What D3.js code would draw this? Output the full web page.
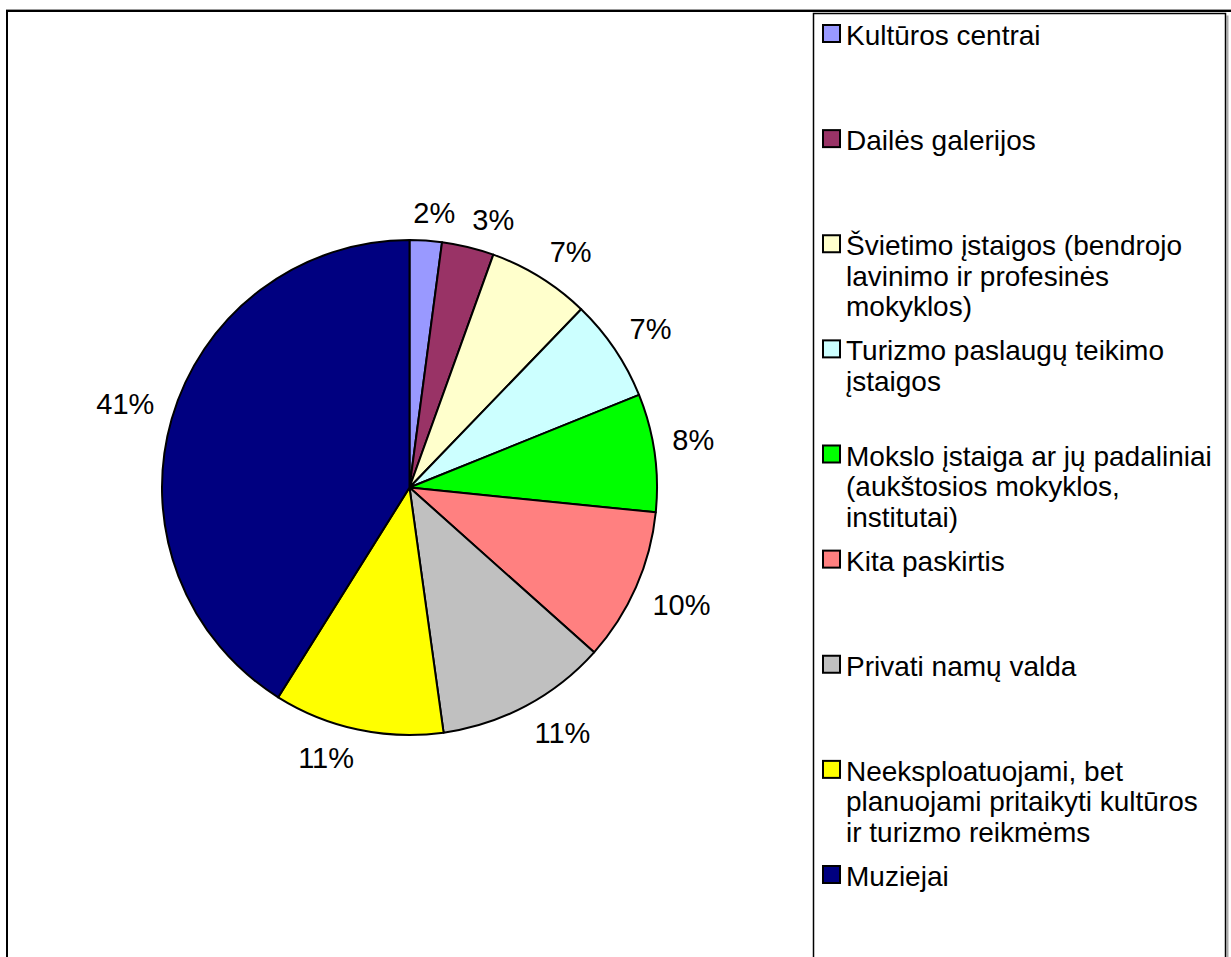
<!DOCTYPE html>
<html>
<head>
<meta charset="utf-8">
<script src="https://cdn.jsdelivr.net/npm/d3@7"></script>
<style>
  body { margin: 0; background: #fff; }
  svg { display: block; font-family: "Liberation Sans", Arial, sans-serif; }
</style>
</head>
<body>
<div id="chart"></div>
<script>
// category names (legend order = slice order, clockwise from 12 o'clock)
var categories = [
    "Kultūros centrai",
    "Dailės galerijos",
    "Švietimo įstaigos (bendrojo\nlavinimo ir profesinės\nmokyklos)",
    "Turizmo paslaugų teikimo\nįstaigos",
    "Mokslo įstaiga ar jų padaliniai\n(aukštosios mokyklos,\ninstitutai)",
    "Kita paskirtis",
    "Privati namų valda",
    "Neeksploatuojami, bet\nplanuojami pritaikyti kultūros\nir turizmo reikmėms",
    "Muziejai"
];
// share of objects, %
var values = [2.1, 3.4, 6.7, 6.7, 7.7, 10.0, 11.2, 11.1, 41.1];
var colors = ["#9999ff", "#993366", "#ffffcc", "#ccffff", "#00ff00", "#ff8080", "#c0c0c0", "#ffff00", "#000080"];

var W = 1231, H = 957;
var svg = d3.select("#chart").append("svg").attr("width", W).attr("height", H);

// chart area frame (runs off the bottom/right of the picture)
svg.append("line").attr("x1", 6).attr("x2", W).attr("y1", 9.5).attr("y2", 9.5)
    .style("stroke", "#999").style("stroke-width", 1);
svg.append("path").attr("d", "M7," + (H + 10) + "V11H" + (W + 10))
    .style("fill", "none").style("stroke", "#000").style("stroke-width", 2);

// pie
var cx = 409.5, cy = 487.5, radius = 247.5;
var pie = d3.pie().sort(null).value(function(d) { return d; });
var arcs = pie(values);
var arc = d3.arc().innerRadius(0).outerRadius(radius);

var g = svg.append("g").attr("transform", "translate(" + cx + "," + cy + ")");
g.selectAll("path.slice").data(arcs).enter().append("path")
    .attr("class", "slice")
    .attr("d", arc)
    .style("fill", function(d, i) { return colors[i]; })
    .style("stroke", "#000")
    .style("stroke-width", 2)
    .style("stroke-linejoin", "round");

// percent labels: the label corner nearest the pie sits on a ring just outside it
var labelFont = 29, capH = labelFont * 0.716, ringR = radius + 18, minGap = 17;
var labels = g.selectAll("text.pct").data(arcs).enter().append("text")
    .attr("class", "pct")
    .attr("text-anchor", "middle")
    .style("font-size", labelFont + "px")
    .style("fill", "#000")
    .text(function(d) { return Math.round(d.value) + "%"; });

var boxes = [];
labels.each(function(d) {
    var a = (d.startAngle + d.endAngle) / 2;
    var px = ringR * Math.sin(a), py = -ringR * Math.cos(a);
    var w = this.getComputedTextLength();
    boxes.push({
        w: w,
        left: Math.sin(a) >= 0 ? px : px - w,
        top: Math.cos(a) >= 0 ? py - capH : py
    });
});
// crowded neighbours along the top: push the earlier label to the left
for (var i = boxes.length - 2; i >= 0; i--) {
    var b = boxes[i], n = boxes[i + 1];
    var vOverlap = b.top < n.top + capH && n.top < b.top + capH;
    if (vOverlap && b.left + b.w + minGap > n.left && b.left < n.left) {
        b.left = n.left - minGap - b.w;
    }
}
labels.attr("x", function(d, i) { return boxes[i].left + boxes[i].w / 2; })
    .attr("y", function(d, i) { return boxes[i].top + capH; });

// legend box
var lx = 813.5, ly = 13.5, lw = 412;
svg.append("line").attr("x1", lx + lw + 2).attr("x2", lx + lw + 2).attr("y1", ly + 2).attr("y2", H + 10)
    .style("stroke", "#aaa").style("stroke-width", 2);
svg.append("rect").attr("x", lx).attr("y", ly).attr("width", lw).attr("height", H)
    .style("fill", "#fff").style("stroke", "#000").style("stroke-width", 1.5);

var yLegend = d3.scaleLinear().domain([0, categories.length - 1]).range([45, 886]);
var lineH = 30.5;

var items = svg.selectAll("g.legend").data(categories).enter().append("g")
    .attr("class", "legend")
    .attr("transform", function(d, i) { return "translate(0," + yLegend(i) + ")"; });

items.append("rect")
    .attr("x", 823).attr("y", -20)
    .attr("width", 17).attr("height", 17)
    .style("fill", function(d, i) { return colors[i]; })
    .style("stroke", "#000").style("stroke-width", 2);

items.append("text")
    .attr("x", 846)
    .style("font-size", "28px")
    .style("fill", "#000")
    .each(function(d) {
        var t = d3.select(this);
        d.split("\n").forEach(function(line, k) {
            t.append("tspan").attr("x", 846).attr("y", k * lineH).text(line);
        });
    });
</script>
</body>
</html>
